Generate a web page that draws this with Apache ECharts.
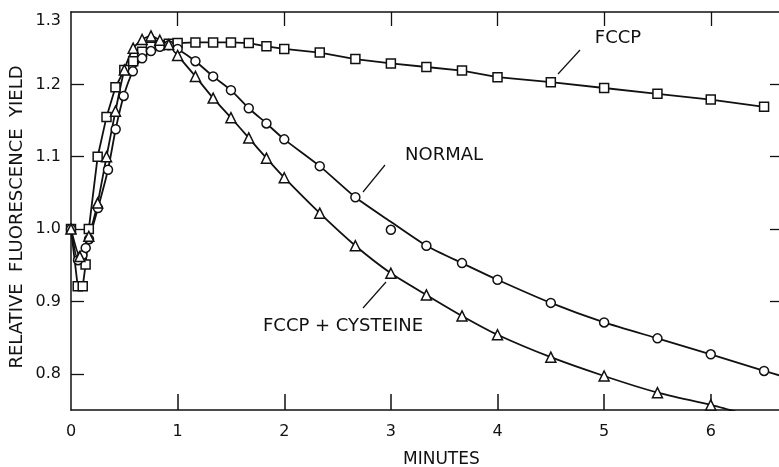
<!DOCTYPE html>
<html><head><meta charset="utf-8">
<script src="https://cdn.jsdelivr.net/npm/echarts@6/dist/echarts.min.js"></script>
<style>html,body{margin:0;padding:0;background:#fff}#c{width:779px;height:467px}</style>
</head><body><div id="c"></div>
<script>
// ---- data ----
const xTickValues = [0, 1, 2, 3, 4, 5, 6];
const yTickValues = [0.8, 0.9, 1.0, 1.1, 1.2, 1.3];

const fccpT = [0,0.063,0.11,0.137,0.167,0.25,0.333,0.417,0.5,0.583,0.667,0.75,0.833,0.917,1.0,1.167,1.333,1.5,1.667,1.833,2.0,2.333,2.667,3.0,3.333,3.667,4.0,4.5,5.0,5.5,6.0,6.5];
const fccpV = [1.0,0.921,0.921,0.951,1.0,1.10,1.155,1.196,1.22,1.232,1.245,1.252,1.254,1.256,1.257,1.258,1.258,1.258,1.257,1.2525,1.249,1.244,1.235,1.229,1.224,1.219,1.21,1.203,1.195,1.187,1.179,1.169];

const normalT = [0,0.066,0.107,0.138,0.169,0.253,0.347,0.419,0.494,0.58,0.667,0.75,0.833,0.917,1.0,1.167,1.333,1.5,1.667,1.833,2.0,2.333,2.667,3.0,3.333,3.667,4.0,4.5,5.0,5.5,6.0,6.5];
const normalV = [1.0,0.957,0.964,0.974,0.986,1.029,1.082,1.138,1.184,1.218,1.236,1.246,1.252,1.254,1.249,1.232,1.211,1.192,1.167,1.146,1.124,1.087,1.044,0.999,0.977,0.953,0.930,0.898,0.871,0.849,0.827,0.804];
// drawn (fitted) curve through the NORMAL points
const normalCurveT = [0,0.066,0.107,0.138,0.169,0.253,0.347,0.419,0.494,0.58,0.667,0.75,0.833,0.917,1.0,1.167,1.333,1.5,1.667,1.833,2.0,2.333,2.667,3.0,3.333,3.667,4.0,4.5,5.0,5.5,6.0,6.5,6.64];
const normalCurveV = [1.0,0.957,0.964,0.974,0.986,1.029,1.082,1.138,1.184,1.218,1.236,1.246,1.252,1.254,1.249,1.232,1.211,1.192,1.167,1.146,1.124,1.087,1.044,1.01,0.977,0.953,0.930,0.898,0.871,0.849,0.827,0.804,0.798];

const cystT = [0,0.083,0.167,0.25,0.333,0.417,0.5,0.583,0.667,0.75,0.833,0.917,1.0,1.167,1.333,1.5,1.667,1.833,2.0,2.333,2.667,3.0,3.333,3.667,4.0,4.5,5.0,5.5,6.0];
const cystV = [1.0,0.962,0.99,1.036,1.10,1.163,1.22,1.25,1.262,1.267,1.261,1.255,1.24,1.211,1.181,1.154,1.126,1.098,1.071,1.022,0.977,0.939,0.909,0.880,0.854,0.823,0.797,0.774,0.757];
// drawn curve continues past the last point to the bottom axis
const cystCurveT = cystT.concat([6.3]);
const cystCurveV = cystV.concat([0.745]);

const zip = (a, b) => a.map((v, i) => [v, b[i]]);

const chart = echarts.init(document.getElementById('c'));
const FONT = 'DejaVu Sans';
const markerStyle = {color: '#fff', borderColor: '#111', borderWidth: 1.5, opacity: 1};
const lineStyle = {color: '#111', width: 1.8};
const axisCommon = {onZero: false, show: true, lineStyle: {color: '#111', width: 1.5}};

chart.setOption({
  animation: false,
  backgroundColor: '#fff',
  grid: {left: 71, right: 0, top: 12, bottom: 57},
  xAxis: [{
    type: 'value', min: 0, max: 6.64, position: 'bottom',
    axisLine: axisCommon,
    axisTick: {show: true, inside: true, length: 16, lineStyle: {color: '#111', width: 1.5}, customValues: [1,2,3,4,5,6]},
    axisLabel: {customValues: xTickValues, color: '#111', fontFamily: FONT, fontSize: 16, margin: 14},
    splitLine: {show: false}
  }, {
    type: 'value', min: 0, max: 6.64, position: 'top',
    axisLine: axisCommon,
    axisTick: {show: true, inside: true, length: 14, lineStyle: {color: '#111', width: 1.3}, customValues: [1,2,3,4,5,6]},
    axisLabel: {show: false},
    splitLine: {show: false}
  }],
  yAxis: [{
    type: 'value', min: 0.75, max: 1.3, position: 'left',
    axisLine: axisCommon,
    axisTick: {show: true, inside: true, length: 13, lineStyle: {color: '#111', width: 1.3}, customValues: [0.8,0.9,1.0,1.1,1.2]},
    axisLabel: {customValues: yTickValues, color: '#111', fontFamily: FONT, fontSize: 16, margin: 10,
      formatter: v => (Math.abs(v - 1.3) < 1e-9 ? '{low|' + v.toFixed(1) + '}' : v.toFixed(1)),
      rich: {low: {fontFamily: FONT, fontSize: 16, color: '#111', padding: [18, 0, 0, 0]}}},
    splitLine: {show: false}
  }, {
    type: 'value', min: 0.75, max: 1.3, position: 'right',
    axisLine: {show: false, onZero: false},
    axisTick: {show: true, inside: true, length: 9, lineStyle: {color: '#111', width: 1.3}, customValues: [0.9,1.0,1.1,1.2]},
    axisLabel: {show: false},
    splitLine: {show: false}
  }],
  series: [
    {type: 'line', data: zip(fccpT, fccpV), symbol: 'none', lineStyle, z: 2},
    {type: 'line', data: zip(normalCurveT, normalCurveV), smooth: 0.2, symbol: 'none', lineStyle, z: 2},
    {type: 'line', data: zip(cystCurveT, cystCurveV), smooth: 0.2, symbol: 'none', lineStyle, z: 2},
    {type: 'scatter', data: zip(fccpT, fccpV), symbol: 'rect', symbolSize: 9, itemStyle: markerStyle, z: 5},
    {type: 'scatter', data: zip(normalT, normalV), symbol: 'circle', symbolSize: 9, itemStyle: markerStyle, z: 5},
    {type: 'scatter', data: zip(cystT, cystV), symbol: 'triangle', symbolSize: 10, itemStyle: markerStyle, z: 5}
  ],
  graphic: [
    {type: 'text', left: 403, top: 451, style: {text: 'MINUTES', font: '17px "DejaVu Sans"', fill: '#111'}},
    {type: 'text', x: 17, y: 217, rotation: Math.PI / 2, style: {text: 'RELATIVE  FLUORESCENCE  YIELD', font: '18px "DejaVu Sans"', fill: '#111', align: 'center', verticalAlign: 'middle'}},
    {type: 'text', x: 618, y: 38, style: {text: 'FCCP', font: '18px "DejaVu Sans"', fill: '#111', align: 'center', verticalAlign: 'middle'}},
    {type: 'line', shape: {x1: 580, y1: 50, x2: 558, y2: 74}, style: {stroke: '#111', lineWidth: 1.2}},
    {type: 'text', x: 444, y: 155, style: {text: 'NORMAL', font: '18px "DejaVu Sans"', fill: '#111', align: 'center', verticalAlign: 'middle'}},
    {type: 'line', shape: {x1: 385, y1: 165, x2: 363, y2: 192}, style: {stroke: '#111', lineWidth: 1.2}},
    {type: 'text', x: 343, y: 326, style: {text: 'FCCP + CYSTEINE', font: '18px "DejaVu Sans"', fill: '#111', align: 'center', verticalAlign: 'middle'}},
    {type: 'line', shape: {x1: 363, y1: 308, x2: 386, y2: 282}, style: {stroke: '#111', lineWidth: 1.2}}
  ]
});
</script></body></html>
